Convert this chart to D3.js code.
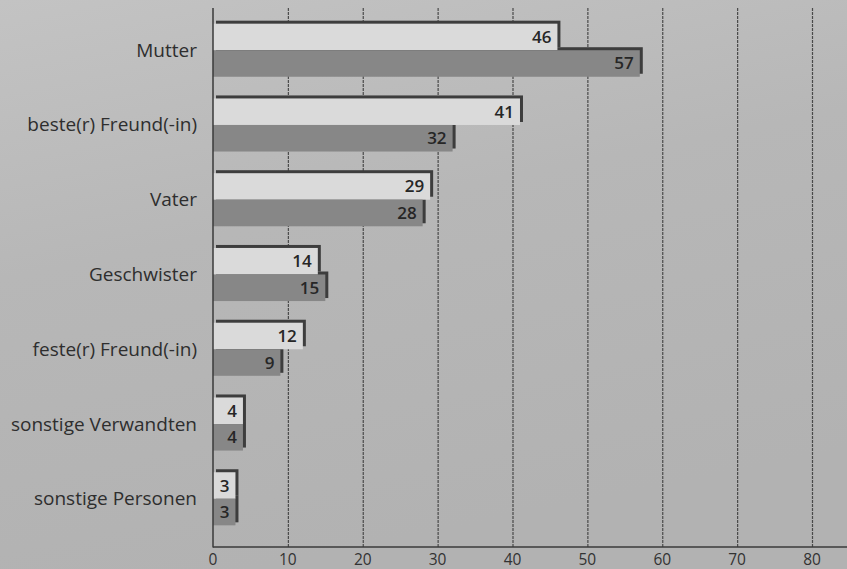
<!DOCTYPE html>
<html>
<head>
<meta charset="utf-8">
<script src="https://cdn.jsdelivr.net/npm/d3@7"></script>
<style>
  body { margin: 0; padding: 0; }
  #chartContainer { width: 847px; height: 569px; }
</style>
</head>
<body>
<div id="chartContainer" class="chartContainer"></div>
<script>
var categories = ["Mutter", "beste(r) Freund(-in)", "Vater", "Geschwister",
                  "feste(r) Freund(-in)", "sonstige Verwandten", "sonstige Personen"];
var seriesLight = [46, 41, 29, 14, 12, 4, 3];
var seriesDark = [57, 32, 28, 15, 9, 4, 3];
var tickValues = [0, 10, 20, 30, 40, 50, 60, 70, 80];

var width;
var height;
var svg;
var g;
var scaleX;
var scaleY;
var scaleSub;

renderSVG();

function renderSVG(){
    width = 847;
    height = 569;

    svg = d3.select(".chartContainer")
        .append("svg")
        .attr("width", width)
        .attr("height", height);

    // background, a bit lighter up top like the scan
    var defs = svg.append("defs");
    var grad = defs.append("linearGradient")
        .attr("id", "bg")
        .attr("x1", "0").attr("y1", "0")
        .attr("x2", "0.3").attr("y2", "1");
    grad.append("stop").attr("offset", "0%").attr("stop-color", "#c3c3c3");
    grad.append("stop").attr("offset", "45%").attr("stop-color", "#b7b7b7");
    grad.append("stop").attr("offset", "100%").attr("stop-color", "#b2b2b2");

    svg.append("rect")
        .attr("width", width)
        .attr("height", height)
        .attr("fill", "url(#bg)");

    scaleX = d3.scaleLinear()
        .domain([0, 80])
        .range([213, 812]);

    scaleY = d3.scaleBand()
        .domain(categories)
        .range([2, 547])
        .padding(0.29);

    scaleSub = d3.scaleBand()
        .domain(["light", "dark"])
        .range([0, scaleY.bandwidth()]);

    g = svg.append("g");

    // grid
    g.selectAll(".grid")
        .data(tickValues.slice(1))
        .enter()
        .append("line")
        .attr("x1", function(d){ return scaleX(d) + 0.5; })
        .attr("x2", function(d){ return scaleX(d) + 0.5; })
        .attr("y1", 8)
        .attr("y2", 547)
        .attr("stroke", "#4a4a4a")
        .attr("stroke-width", 1.2)
        .attr("stroke-dasharray", "3,1");

    var rows = [];
    categories.forEach(function(c, i){
        rows.push({cat: c, key: "light", value: seriesLight[i]});
        rows.push({cat: c, key: "dark", value: seriesDark[i]});
    });

    // shadows first so they sit behind every bar
    g.selectAll(".shadow")
        .data(rows)
        .enter()
        .append("rect")
        .attr("x", scaleX(0) + 3)
        .attr("y", function(d){ return scaleY(d.cat) + scaleSub(d.key) - 3; })
        .attr("width", function(d){ return scaleX(d.value) - scaleX(0); })
        .attr("height", scaleSub.bandwidth())
        .attr("fill", "#3d3d3d");

    g.selectAll(".bar")
        .data(rows)
        .enter()
        .append("rect")
        .attr("x", scaleX(0))
        .attr("y", function(d){ return scaleY(d.cat) + scaleSub(d.key); })
        .attr("width", function(d){ return scaleX(d.value) - scaleX(0); })
        .attr("height", scaleSub.bandwidth())
        .attr("fill", function(d){ return d.key == "light" ? "#dadada" : "#878787"; });

    g.selectAll(".val")
        .data(rows)
        .enter()
        .append("text")
        .attr("x", function(d){ return scaleX(d.value) - 6; })
        .attr("y", function(d){ return scaleY(d.cat) + scaleSub(d.key) + scaleSub.bandwidth() / 2 + 6; })
        .attr("text-anchor", "end")
        .attr("font-family", "Open Sans")
        .attr("font-weight", 600)
        .attr("font-size", 17)
        .attr("fill", "#262626")
        .text(function(d){ return d.value; });

    // axis lines
    g.append("line")
        .attr("x1", scaleX(0)).attr("x2", scaleX(0))
        .attr("y1", 8).attr("y2", 547.5)
        .attr("stroke", "#3a3a3a")
        .attr("stroke-width", 1.5);
    g.append("line")
        .attr("x1", scaleX(0)).attr("x2", width)
        .attr("y1", 547).attr("y2", 547)
        .attr("stroke", "#3a3a3a")
        .attr("stroke-width", 1.5);

    // category labels
    g.selectAll(".cat")
        .data(categories)
        .enter()
        .append("text")
        .attr("x", 197)
        .attr("y", function(d){ return scaleY(d) + scaleY.bandwidth() / 2 + 6.5; })
        .attr("text-anchor", "end")
        .attr("font-family", "Open Sans")
        .attr("font-size", 19)
        .attr("fill", "#2e2e2e")
        .text(function(d){ return d; });

    // tick labels
    g.selectAll(".tick")
        .data(tickValues)
        .enter()
        .append("text")
        .attr("x", function(d){ return scaleX(d); })
        .attr("y", 565)
        .attr("text-anchor", "middle")
        .attr("font-family", "Open Sans")
        .attr("font-size", 15.5)
        .attr("fill", "#333")
        .text(function(d){ return d; });
}
</script>
</body>
</html>
